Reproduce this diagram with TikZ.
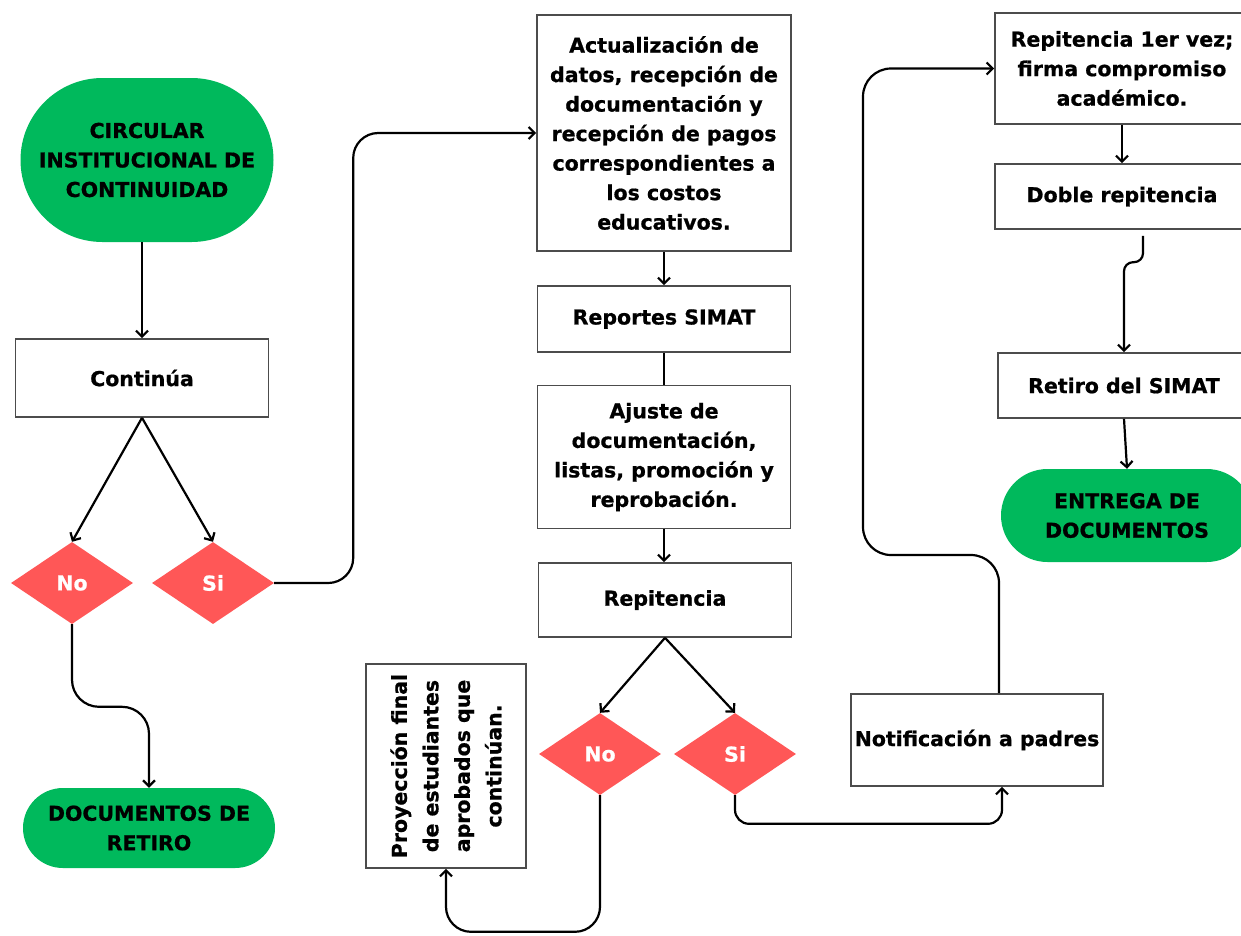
\documentclass[tikz,border=0pt]{standalone}
\usepackage{fontspec}
\setmainfont{DejaVu Sans}[BoldFeatures={FakeBold=0.8}]
\usetikzlibrary{shapes.geometric,shapes.misc,arrows.meta}
\definecolor{verde}{RGB}{0,185,92}
\definecolor{rojo}{RGB}{255,87,87}

\begin{document}
\begin{tikzpicture}[x=1pt, y=-1pt,
  font=\bfseries\fontsize{20.5}{29.5}\selectfont,
  caja/.style={draw=black!70, line width=1.6pt, rectangle, align=center, inner sep=0pt, minimum width=253pt},
  fin/.style={rounded rectangle, fill=verde, align=center, inner sep=0pt},
  decision/.style={diamond, fill=rojo, text=white, inner sep=0pt, minimum width=122pt, minimum height=82pt},
  flecha/.style={line width=2.2pt, -{Straight Barb[length=6pt,width=12pt]}},
  linea/.style={line width=2.2pt}]
  \useasboundingbox (0,0) rectangle (1241,935);
  \node[fin, minimum width=253pt, minimum height=164pt] (circ) at (147,160) {CIRCULAR\\INSTITUCIONAL DE\\CONTINUIDAD};
  \node[caja, minimum height=78pt] (cont) at (142,378) {Continúa};
  \node[decision] (no1) at (72,583) {No};
  \node[decision] (si1) at (213,583) {Si};
  \node[fin, minimum width=252pt, minimum height=80pt] (docret) at (149,828) {DOCUMENTOS DE\\RETIRO};
  \node[caja, minimum width=254pt, minimum height=236pt] (act) at (664,133) {Actualización de\\datos, recepción de\\documentación y\\recepción de pagos\\correspondientes a\\los costos\\educativos.};
  \node[caja, minimum height=66pt] (rep) at (664,319) {Reportes SIMAT};
  \node[caja, minimum height=143pt] (aju) at (664,457) {Ajuste de\\documentación,\\listas, promoción y\\reprobación.};
  \node[caja, minimum height=74pt] (repe) at (665,600) {Repitencia};
  \node[decision] (no2) at (600,754) {No};
  \node[decision] (si2) at (735,754) {Si};
  \node[caja, rotate=90, minimum width=204pt, minimum height=160pt, font=\bfseries\fontsize{20.5}{31.5}\selectfont] (proy) at (446,766) {Proyección final\\de estudiantes\\aprobados que\\continúan.};
  \node[caja, minimum width=252pt, minimum height=92pt] (notif) at (977,740) {Notificación a padres};
  \node[caja, minimum width=254pt, minimum height=111pt] (rep1) at (1122,68.5) {Repitencia 1er vez;\\firma compromiso\\académico.};
  \node[caja, minimum width=254pt, minimum height=65pt] (doble) at (1122,196.5) {Doble repitencia};
  \node[caja, minimum width=252pt, minimum height=65pt] (retiro) at (1124,385.5) {Retiro del SIMAT};
  \node[fin, minimum width=252pt, minimum height=93pt] (entrega) at (1127,515.5) {ENTREGA DE\\DOCUMENTOS};
  \coordinate (giro) at (863,555);
  \draw[flecha] (cont.north |- circ.south) -- (cont.north);
  \draw[flecha] (cont.south) -- (no1.north);
  \draw[flecha] (cont.south) -- (si1.north);
  \draw[flecha, rounded corners=27pt] (no1.south) |- ([yshift=81pt]docret.north) -- (docret.north);
  \draw[flecha, rounded corners=25pt] (si1.east) -| ([xshift=-183pt]act.west) -- (act.west);
  \draw[flecha] (act.south) -- (rep.north);
  \draw[linea] (rep.south) -- (aju.north);
  \draw[flecha] (aju.south) -- (aju.south |- repe.north);
  \draw[flecha] (repe.south) -- (no2.north);
  \draw[flecha] (repe.south) -- (si2.north);
  \draw[flecha, rounded corners=25pt] (no2.south) |- ([yshift=-63pt]proy.west) -- (proy.west);
  \draw[flecha, rounded corners=14pt] (si2.south) |- ([shift={(25pt,-37pt)}]notif.south) -- ([xshift=25pt]notif.south);
  \draw[flecha, rounded corners=28pt] ([xshift=22pt]notif.north) |- (giro) |- (rep1.west);
  \draw[flecha] (rep1.south) -- (doble.north);
  \draw[flecha, rounded corners=9pt] ([shift={(21pt,-6pt)}]doble.south) |- ([yshift=90pt]retiro.north) -- (retiro.north);
  \draw[flecha] (retiro.south) -- (entrega.north);
\end{tikzpicture}
\end{document}
